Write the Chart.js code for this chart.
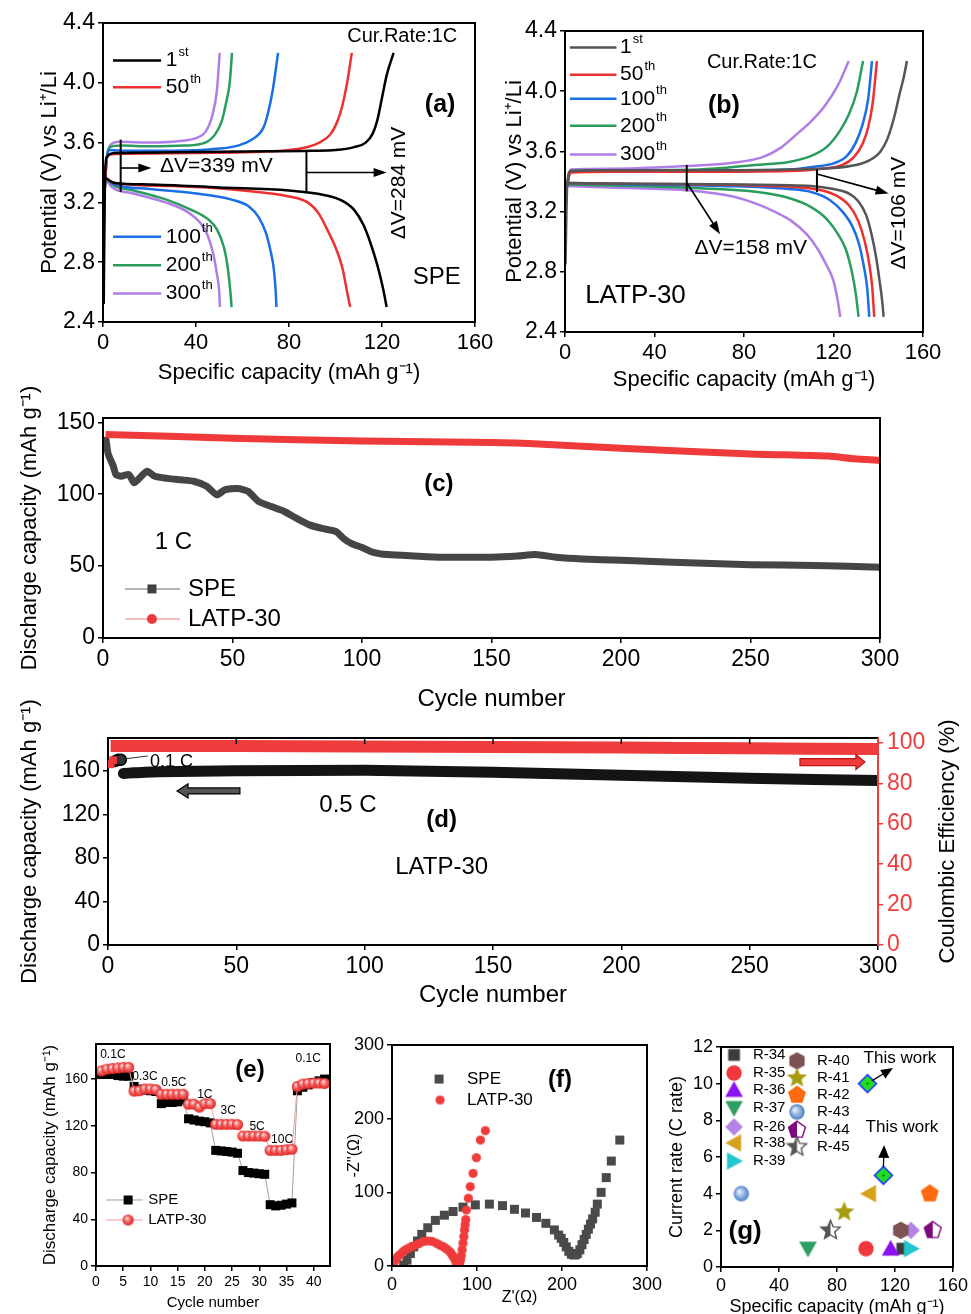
<!DOCTYPE html>
<html lang="en">
<head>
<meta charset="utf-8">
<title>SPE vs LATP-30 electrochemical performance</title>
<script src="https://cdn.jsdelivr.net/npm/chart.js"></script>
<style>
  body { margin: 0; background: #fff; }
  #page { position: relative; width: 971px; height: 1314px; overflow: hidden; background: #fff; }
  #page canvas { position: absolute; }
</style>
</head>
<body>
<div id="page">
  <canvas id="chartA" width="505" height="392" style="left:0;top:0"></canvas>
  <canvas id="chartB" width="481" height="400" style="left:490px;top:0"></canvas>
  <canvas id="chartC" width="971" height="350" style="left:0;top:370px"></canvas>
  <canvas id="chartD" width="971" height="320" style="left:0;top:700px"></canvas>
  <canvas id="chartE" width="350" height="284" style="left:0;top:1030px"></canvas>
  <canvas id="chartF" width="340" height="284" style="left:330px;top:1030px"></canvas>
  <canvas id="chartG" width="311" height="294" style="left:660px;top:1030px"></canvas>
</div>

<script>
// ---------- data ----------
// (a) SPE, charge / discharge profiles: [capacity mAh/g, potential V]
const cycleLabels = ['1st', '50th', '100th', '200th', '300th'];
const speCharge1 = [[0.3,2.52],[0.8,3.3],[1.5,3.5],[5,3.53],[30,3.535],[60,3.54],[90,3.545],[100,3.55],[108,3.57],[113,3.6],[116,3.66],[118,3.75],[120,3.9],[122,4.05],[125,4.2]];
const speDischarge1 = [[0.5,3.37],[5,3.33],[20,3.32],[50,3.3],[80,3.28],[95,3.25],[103,3.21],[108,3.15],[112,3.05],[115,2.93],[118,2.78],[120.5,2.62],[122,2.5]];
const speCharge50 = [[0.8,3.3],[1.5,3.48],[3,3.52],[10,3.525],[40,3.53],[70,3.54],[85,3.56],[93,3.6],[98,3.66],[101,3.75],[103,3.85],[105,4.0],[107,4.2]];
const speDischarge50 = [[0.5,3.37],[5,3.33],[30,3.31],[60,3.28],[80,3.24],[88,3.2],[93,3.12],[97,3.0],[100,2.9],[103,2.76],[105,2.6],[106.3,2.5]];
const speCharge100 = [[0.8,3.3],[1.5,3.48],[3,3.55],[10,3.545],[30,3.545],[50,3.56],[58,3.58],[64,3.62],[69,3.7],[71,3.8],[73,3.95],[75.3,4.2]];
const speDischarge100 = [[0.5,3.37],[5,3.32],[20,3.29],[40,3.26],[55,3.22],[63,3.17],[67,3.1],[70,3.0],[72,2.88],[73.5,2.75],[74.3,2.6],[74.6,2.5]];
const speCharge200 = [[0.8,3.3],[1.5,3.48],[3,3.57],[8,3.58],[20,3.575],[35,3.58],[44,3.6],[48,3.65],[51,3.74],[53,3.87],[54.5,4.0],[55.5,4.2]];
const speDischarge200 = [[0.5,3.37],[5,3.31],[13,3.28],[27,3.22],[38,3.15],[45,3.09],[49,3.02],[52,2.9],[53.5,2.78],[54.8,2.6],[55.3,2.5]];
const speCharge300 = [[0.8,3.3],[1.5,3.48],[3,3.58],[7,3.605],[20,3.6],[33,3.61],[40,3.63],[44,3.67],[47,3.78],[49,3.95],[50.2,4.2]];
const speDischarge300 = [[0.5,3.37],[4,3.3],[13,3.26],[27,3.2],[36,3.14],[42,3.06],[45,2.98],[47.5,2.85],[49,2.72],[50,2.6],[50.3,2.5]];

// (b) LATP-30, charge / discharge profiles
const latpCharge1 = [[0.2,2.85],[1,3.38],[2.5,3.47],[20,3.475],[60,3.475],[100,3.48],[120,3.49],[130,3.51],[136,3.54],[141,3.6],[144,3.68],[147,3.82],[149.5,3.98],[151.5,4.1],[152.8,4.2]];
const latpDischarge1 = [[0.5,3.39],[30,3.385],[80,3.38],[110,3.37],[120,3.35],[127,3.32],[131,3.27],[134.5,3.18],[137,3.05],[139,2.9],[140.5,2.75],[141.8,2.6],[142.4,2.5]];
const latpCharge50 = [[1,3.38],[2.5,3.46],[20,3.465],[60,3.465],[100,3.47],[115,3.485],[124,3.51],[129,3.56],[133,3.65],[135.5,3.76],[137.5,3.92],[139.4,4.2]];
const latpDischarge50 = [[0.5,3.39],[30,3.385],[80,3.375],[105,3.36],[115,3.34],[122,3.3],[127,3.24],[131,3.14],[134,3.0],[136,2.85],[137.3,2.7],[138.2,2.5]];
const latpCharge100 = [[1,3.38],[2.5,3.47],[20,3.47],[60,3.47],[100,3.48],[112,3.5],[120,3.52],[126,3.57],[130,3.66],[133,3.78],[135.5,3.95],[137.2,4.2]];
const latpDischarge100 = [[0.5,3.39],[30,3.38],[70,3.37],[100,3.35],[110,3.33],[118,3.28],[124,3.2],[128.5,3.1],[131.5,2.98],[133.5,2.84],[135,2.7],[136,2.5]];
const latpCharge200 = [[1,3.38],[2.5,3.47],[20,3.475],[60,3.48],[85,3.51],[100,3.53],[110,3.57],[117,3.63],[123,3.74],[127,3.85],[130.5,4.0],[133.2,4.2]];
const latpDischarge200 = [[0.5,3.38],[30,3.37],[60,3.355],[86,3.33],[100,3.29],[110,3.23],[117,3.15],[122,3.05],[125.5,2.95],[128.2,2.8],[130,2.65],[131.2,2.5]];
const latpCharge300 = [[1,3.38],[2.5,3.48],[20,3.485],[50,3.5],[75,3.525],[88,3.56],[96,3.62],[104,3.72],[110,3.8],[116,3.9],[122,4.04],[126.8,4.2]];
const latpDischarge300 = [[0.5,3.37],[20,3.36],[56,3.34],[75,3.3],[86,3.25],[95,3.19],[101,3.14],[108,3.05],[113,2.95],[117,2.84],[120,2.74],[122,2.6],[123,2.5]];

// (c) cycling at 1 C
const cyclesSpeC = [1,2,4,5,7,10,12,14,17,20,25,30,35,40,44,47,52,56,60,65,70,75,80,85,90,93,96,100,104,110,120,130,140,150,160,167,175,185,200,220,250,275,300];
const capSpeC = [140,128,119.5,113.7,112.5,113.7,108,111,116,112.5,111,110,109,105.5,99.6,103,104,102,95,91.4,88,83,78.5,76,74,69,65.6,63,59.8,58,57,56.2,56.2,56.2,57,58,56.2,55,54,52.7,51,50.4,49.2];
const cyclesLatpC = [1,50,100,150,170,200,250,280,290,300];
const capLatpC = [141.5,139,137,136,134.8,132,128,126.5,124.7,123.5];

// (d) LATP-30 long cycling, 0.1 C activation then 0.5 C
const cyclesD01 = [3,4,5];
const capD01 = [169,170,170];
const cyclesD05 = [6,10,20,50,100,150,200,250,300];
const capD05 = [157.5,158,159,160,160.3,158.5,155.7,153,151];
const cyclesCeFirst = [1,2];
const ceFirst = [89.5,91.5];
const cyclesCe = [1,50,100,150,200,250,300];
const ceMain = [98.6,98.5,98.3,98.1,97.8,97.4,97];

// (e) rate capability
const rateCycles = [1,2,3,4,5,6,7,8,9,10,11,12,13,14,15,16,17,18,19,20,21,22,23,24,25,26,27,28,29,30,31,32,33,34,35,36,37,38,39,40,41,42];
const speRate = [164,164,164,163,162.5,162.5,153.7,151.4,150.5,150,149.4,139,140,140,140.5,142,126,125,124,123.5,122.5,99,98.5,98,97.5,96.5,81.7,80,79.5,79,78.5,52.5,51.5,52,53,54,150,153,155,157,158.5,160];
const latpRate = [167,168.5,169,169.5,170,170,149.7,150,151.5,151.5,151,147,147,147,147,147,138.5,138.5,136,139,139,121.3,121.3,121.3,121.3,121,111.3,111.3,111.3,111.3,111,99,99,99,99.5,100,153.7,155.7,156.3,156.6,156.6,156.3];
const rateLabels = ['0.1C', '0.3C', '0.5C', '1C', '3C', '5C', '10C', '0.1C'];

// (f) Nyquist plots: Z' and -Z'' in ohm
const speZre = [13.7,17.6,21.6,25.5,30,35,42,51,61.6,71.8,83.5,98,114.5,130,144,157,170,181,191,196,199,202,205,208,211,214,216,218,221,223.5,226,228.5,231,233.5,236,239,241.5,246,252,258,268];
const speZim = [1.4,8,17,26,34,43,52,62,69,74,80,83,84,82,77,72,66,58,49,42,37.6,32,26,20,16,15,15.5,17,22,29,36,43,50,57,64,73,84,100,120,142.5,171];
const latpZre = [1,2,3,5,7,10,13,16,20,24,28,32,37,42,47,52,56,60,63,66,69,71,73,74.5,75.5,76.5,78,79.5,80.5,81.5,82.5,83.5,84.5,85.3,86,86.7,87.5,89.8,92,95.3,99.2,104,109.8];
const latpZim = [1,4,7,10,13,16,19.5,22,24.5,26.5,28.5,30.5,33.5,34,33.5,31,28.5,26.5,24,21.5,18,14.5,11,8,5,3,2.5,4,8,14,22,31,40,49,56,63,76,92,107.7,125.8,147,171,183.7];

// (g) comparison with literature: capacity (mAh/g) vs C rate
const refNames = ['R-34','R-35','R-36','R-37','R-26','R-38','R-39','R-40','R-41','R-42','R-43','R-44','R-45'];
const refCapacity = [125,100,117,60,131,102,131,124,85,144,14,146,75.5];
const refRate = [1,1,1,1,2,4,1,2,3,4,4,2,2];
const thisWorkCapacity = [101,112];
const thisWorkRate = [10,5];

// ---------- drawing helpers ----------
const FONT = "'Liberation Sans', Arial, sans-serif";
Chart.defaults.font.family = FONT;
Chart.defaults.color = '#000';

const toPts = arr => arr.map(p => ({ x: p[0], y: p[1] }));
const zip = (xs, ys) => xs.map((x, i) => ({ x, y: ys[i] }));

function marker(size, paint, k = 1) {
  const c = document.createElement('canvas');
  c.width = Math.ceil(size * k); c.height = Math.ceil(size * k);
  const g = c.getContext('2d');
  g.translate(c.width / 2, c.height / 2);
  g.scale(k, k);
  paint(g);
  return c;
}
function path(g, pts) {
  g.beginPath();
  pts.forEach((p, i) => i ? g.lineTo(p[0], p[1]) : g.moveTo(p[0], p[1]));
  g.closePath();
}
function ngon(g, r, n) {
  g.beginPath();
  for (let i = 0; i < n; i++) {
    const a = -Math.PI / 2 + i * 2 * Math.PI / n;
    g.lineTo(r * Math.cos(a), r * Math.sin(a));
  }
  g.closePath();
}
function star(g, r) {
  g.beginPath();
  for (let i = 0; i < 10; i++) {
    const a = -Math.PI / 2 + i * Math.PI / 5;
    const rr = i % 2 ? r * 0.45 : r;
    g.lineTo(rr * Math.cos(a), rr * Math.sin(a));
  }
  g.closePath();
}
const fillWith = (col, shape) => g => { shape(g); g.fillStyle = col; g.fill(); };

const MK = 1.18; // marker scale for panel (g)
const refMarkers = [
  marker(12, g => { g.fillStyle = '#3c3c3c'; g.fillRect(-5, -5, 10, 10); }, MK),
  marker(15, g => { g.beginPath(); g.arc(0, 0, 6.5, 0, 7); g.fillStyle = '#f0383c'; g.fill(); }, MK),
  marker(17, fillWith('#8b10f0', g => path(g, [[0,-7.5],[7.5,6],[-7.5,6]])), MK),
  marker(17, fillWith('#2f9e64', g => path(g, [[0,7.5],[7.5,-6],[-7.5,-6]])), MK),
  marker(17, fillWith('#b583e3', g => path(g, [[0,-7.5],[7.5,0],[0,7.5],[-7.5,0]])), MK),
  marker(17, fillWith('#d6a21c', g => path(g, [[-7.5,0],[6,-7.5],[6,7.5]])), MK),
  marker(17, fillWith('#22c6cc', g => path(g, [[7.5,0],[-6,-7.5],[-6,7.5]])), MK),
  marker(17, fillWith('#7c5252', g => ngon(g, 7.5, 6)), MK),
  marker(19, fillWith('#a69c10', g => star(g, 9)), MK),
  marker(18, fillWith('#ff6b10', g => ngon(g, 8, 5)), MK),
  marker(15, g => {
    const gr = g.createRadialGradient(-2, -2, 0.5, 0, 0, 6.5);
    gr.addColorStop(0, '#e4efff'); gr.addColorStop(1, '#4a7fc4');
    g.beginPath(); g.arc(0, 0, 6.5, 0, 7); g.fillStyle = gr; g.fill();
  }, MK),
  marker(18, g => {
    ngon(g, 7.5, 5); g.fillStyle = '#fff'; g.fill();
    g.save(); g.beginPath(); g.rect(-9, -9, 9, 18); g.clip();
    ngon(g, 7.5, 5); g.fillStyle = '#7d0b7d'; g.fill(); g.restore();
    ngon(g, 7.5, 5); g.strokeStyle = '#7d0b7d'; g.lineWidth = 1.2; g.stroke();
  }, MK),
  marker(19, g => {
    star(g, 8.5); g.fillStyle = '#fff'; g.fill();
    g.save(); g.beginPath(); g.rect(-10, -10, 10, 20); g.clip();
    star(g, 8.5); g.fillStyle = '#555'; g.fill(); g.restore();
    star(g, 8.5); g.strokeStyle = '#555'; g.lineWidth = 1.2; g.stroke();
  }, MK)
];
const thisWorkMarker = marker(20, g => {
  path(g, [[0,-8.5],[8.5,0],[0,8.5],[-8.5,0]]);
  g.fillStyle = '#22dd22'; g.fill(); g.strokeStyle = '#2040ff'; g.lineWidth = 1.6; g.stroke();
  g.beginPath(); g.arc(0, 0, 0.9, 0, 7); g.fillStyle = '#0a400a'; g.fill();
}, 1.05);
const squareE = marker(11, g => { g.fillStyle = '#000'; g.fillRect(-4.5, -4.5, 9, 9); });
const glossyE = marker(13, g => {
  const gr = g.createRadialGradient(-1.5, -2, 0.3, 0, 0, 5.8);
  gr.addColorStop(0, '#ffe0e0'); gr.addColorStop(0.45, '#f46a6a'); gr.addColorStop(1, '#e01e1e');
  g.beginPath(); g.arc(0, 0, 5.6, 0, 7); g.fillStyle = gr; g.fill();
});
const squareF = marker(11, g => { g.fillStyle = '#4a4a4a'; g.fillRect(-4.5, -4.5, 9, 9); });
const circleF = marker(11, g => { g.beginPath(); g.arc(0, 0, 4.6, 0, 7); g.fillStyle = '#ef3b3b'; g.fill(); });

function txt(ctx, s, x, y, size, align = 'center', opts = {}) {
  ctx.font = (opts.bold ? 'bold ' : '') + size + 'px ' + FONT;
  ctx.fillStyle = opts.color || '#000';
  ctx.textAlign = align; ctx.textBaseline = 'middle';
  ctx.fillText(s, x, y);
}
function vtxt(ctx, s, x, y, size) {
  ctx.save(); ctx.translate(x, y); ctx.rotate(-Math.PI / 2);
  txt(ctx, s, 0, 0, size); ctx.restore();
}
function ordinal(ctx, label, x, y, size) {
  const m = label.match(/^(\d+)(\D+)$/);
  txt(ctx, m[1], x, y, size, 'left');
  const w = ctx.measureText(m[1]).width;
  txt(ctx, m[2], x + w + 1, y - size * 0.38, Math.round(size * 0.62), 'left');
}
function seg(ctx, x1, y1, x2, y2, lw = 2, color = '#000') {
  ctx.strokeStyle = color; ctx.lineWidth = lw;
  ctx.beginPath(); ctx.moveTo(x1, y1); ctx.lineTo(x2, y2); ctx.stroke();
}
function arrow(ctx, x1, y1, x2, y2, len = 13, half = 4.5, lw = 1.6) {
  const a = Math.atan2(y2 - y1, x2 - x1), c = Math.cos(a), s = Math.sin(a);
  seg(ctx, x1, y1, x2 - len * c * 0.7, y2 - len * s * 0.7, lw);
  ctx.fillStyle = '#000';
  ctx.beginPath(); ctx.moveTo(x2, y2);
  ctx.lineTo(x2 - len * c + half * s, y2 - len * s - half * c);
  ctx.lineTo(x2 - len * c - half * s, y2 - len * s + half * c);
  ctx.closePath(); ctx.fill();
}
function blockArrow(ctx, xTail, xHead, y, shaft, head, headLen, fill, stroke) {
  const d = Math.sign(xHead - xTail), xb = xHead - d * headLen;
  ctx.beginPath();
  ctx.moveTo(xTail, y - shaft / 2); ctx.lineTo(xb, y - shaft / 2); ctx.lineTo(xb, y - head / 2);
  ctx.lineTo(xHead, y); ctx.lineTo(xb, y + head / 2); ctx.lineTo(xb, y + shaft / 2);
  ctx.lineTo(xTail, y + shaft / 2); ctx.closePath();
  ctx.fillStyle = fill; ctx.fill(); ctx.strokeStyle = stroke; ctx.lineWidth = 1.2; ctx.stroke();
}

function axis(o) {
  const ax = {
    type: 'linear', position: o.pos, min: o.min, max: o.max,
    ticks: { stepSize: o.step, includeBounds: false, autoSkip: false, maxRotation: 0,
             color: o.color || '#000', font: { size: o.tickSize }, padding: o.tickPad == null ? 3 : o.tickPad },
    grid: { drawOnChartArea: false, tickLength: 5, color: o.color || '#000', lineWidth: 1.5 },
    border: { color: o.color || '#000', width: 2 },
    title: o.title ? { display: true, text: o.title, color: '#000', font: { size: o.titleSize },
                       padding: { top: o.titlePad, bottom: o.titlePad } } : { display: false },
    afterFit(s) {
      if (s.isHorizontal()) { s.height = o.size; s.paddingLeft = 0; s.paddingRight = 0; }
      else { s.width = o.size; s.paddingTop = 0; s.paddingBottom = 0; }
    }
  };
  if (o.fmt) ax.ticks.callback = o.fmt;
  return ax;
}
const oneDecimal = v => v.toFixed(1);

const framePlugin = {
  id: 'frame',
  afterDatasetsDraw(chart) {
    const a = chart.chartArea, ctx = chart.ctx;
    ctx.save(); ctx.strokeStyle = '#000'; ctx.lineWidth = 2;
    ctx.strokeRect(a.left, a.top, a.right - a.left, a.bottom - a.top);
    ctx.restore();
  }
};
function overlay(draw) {
  return {
    id: 'overlay',
    afterDraw(chart) {
      const ctx = chart.ctx;
      ctx.save();
      draw(ctx, v => chart.scales.x.getPixelForValue(v), v => chart.scales.y.getPixelForValue(v), chart);
      ctx.restore();
    }
  };
}
function makeChart(id, datasets, scales, padding, draw, frame = true) {
  return new Chart(document.getElementById(id), {
    type: 'scatter',
    data: { datasets },
    options: {
      responsive: false, animation: false, devicePixelRatio: 1,
      layout: { padding },
      scales,
      plugins: { legend: { display: false }, tooltip: { enabled: false } },
      elements: { point: { radius: 0 } }
    },
    plugins: frame ? [framePlugin, overlay(draw)] : [overlay(draw)]
  });
}
function curve(data, color, width = 2.5) {
  return { data: toPts(data), showLine: true, borderColor: color, borderWidth: width,
           pointRadius: 0, cubicInterpolationMode: 'monotone', fill: false };
}

// ---------- (a) ----------
const colorsA = ['#000000', '#ee3030', '#1a6fe6', '#2a9d5c', '#b07ee6'];
const curvesA = [[speCharge1, speDischarge1], [speCharge50, speDischarge50], [speCharge100, speDischarge100],
                 [speCharge200, speDischarge200], [speCharge300, speDischarge300]];
makeChart('chartA',
  curvesA.flatMap((pair, i) => pair.map(d => curve(d, colorsA[i]))),
  {
    x: axis({ pos: 'bottom', min: 0, max: 160, step: 40, tickSize: 22, size: 70,
              title: 'Specific capacity (mAh g\u207B\u00B9)', titleSize: 22, titlePad: 6 }),
    y: axis({ pos: 'left', min: 2.4, max: 4.4, step: 0.4, tickSize: 23, size: 103, fmt: oneDecimal,
              title: 'Potential (V) vs Li\u207A/Li', titleSize: 22, titlePad: 37 })
  },
  { left: 0, top: 23, right: 30, bottom: 0 },
  (ctx, X, Y) => {
    const rows = [4.15, 3.97, 2.97, 2.78, 2.59];
    rows.forEach((v, i) => {
      seg(ctx, X(4.3), Y(v), X(25), Y(v), 2.5, colorsA[i]);
      ordinal(ctx, cycleLabels[i], X(27), Y(v), 21);
    });
    txt(ctx, 'Cur.Rate:1C', X(128.7), Y(4.31), 20);
    txt(ctx, '(a)', X(145), Y(3.85), 25, 'center', { bold: true });
    txt(ctx, 'SPE', X(143.5), Y(2.7), 24);
    seg(ctx, X(7.6), Y(3.27), X(7.6), Y(3.62), 2);
    arrow(ctx, X(7.6), Y(3.43), X(20.8), Y(3.43));
    txt(ctx, '\u0394V=339 mV', X(24.5), Y(3.44), 21, 'left');
    seg(ctx, X(87.5), Y(3.27), X(87.5), Y(3.545), 2);
    arrow(ctx, X(87.5), Y(3.4), X(122), Y(3.4));
    vtxt(ctx, '\u0394V=284 mV', X(127.3), Y(3.33), 21);
  });

// ---------- (b) ----------
const colorsB = ['#555555', '#ee3030', '#1a6fe6', '#2a9d5c', '#b07ee6'];
const curvesB = [[latpCharge1, latpDischarge1], [latpCharge50, latpDischarge50], [latpCharge100, latpDischarge100],
                 [latpCharge200, latpDischarge200], [latpCharge300, latpDischarge300]];
makeChart('chartB',
  curvesB.flatMap((pair, i) => pair.map(d => curve(d, colorsB[i]))),
  {
    x: axis({ pos: 'bottom', min: 0, max: 160, step: 40, tickSize: 22, size: 68,
              title: 'Specific capacity (mAh g\u207B\u00B9)', titleSize: 22, titlePad: 7 }),
    y: axis({ pos: 'left', min: 2.4, max: 4.4, step: 0.4, tickSize: 23, size: 75, fmt: oneDecimal,
              title: 'Potential (V) vs Li\u207A/Li', titleSize: 22, titlePad: 12 })
  },
  { left: 0, top: 31, right: 48, bottom: 0 },
  (ctx, X, Y) => {
    const rows = [4.29, 4.11, 3.95, 3.77, 3.58];
    rows.forEach((v, i) => {
      seg(ctx, X(2.2), Y(v), X(23), Y(v), 2.5, colorsB[i]);
      ordinal(ctx, cycleLabels[i], X(24.6), Y(v), 21);
    });
    txt(ctx, 'Cur.Rate:1C', X(88), Y(4.19), 20);
    txt(ctx, '(b)', X(71), Y(3.9), 25, 'center', { bold: true });
    seg(ctx, X(54.4), Y(3.335), X(54.4), Y(3.51), 2);
    arrow(ctx, X(54.5), Y(3.39), X(69.3), Y(3.05));
    txt(ctx, '\u0394V=158 mV', X(83), Y(2.96), 21);
    seg(ctx, X(112.6), Y(3.33), X(112.6), Y(3.48), 2);
    arrow(ctx, X(112.6), Y(3.45), X(144.6), Y(3.32));
    vtxt(ctx, '\u0394V=106 mV', X(149.2), Y(3.19), 21);
    txt(ctx, 'LATP-30', X(9), Y(2.64), 26, 'left');
  });

// ---------- (c) ----------
makeChart('chartC',
  [
    { data: zip(cyclesLatpC, capLatpC), showLine: true, borderColor: '#ee3a3a', borderWidth: 7, pointRadius: 0, tension: 0.2 },
    { data: zip(cyclesSpeC, capSpeC), showLine: true, borderColor: '#454545', borderWidth: 7, pointRadius: 0, tension: 0.2 }
  ],
  {
    x: axis({ pos: 'bottom', min: 0, max: 300, step: 50, tickSize: 23, size: 82,
              title: 'Cycle number', titleSize: 24, titlePad: 6 }),
    y: axis({ pos: 'left', min: 0, max: 153, step: 50, tickSize: 23, size: 103,
              title: 'Discharge capacity (mAh g\u207B\u00B9)', titleSize: 22, titlePad: 17 })
  },
  { left: 0, top: 48, right: 91, bottom: 0 },
  (ctx, X, Y) => {
    seg(ctx, X(8.5), Y(34.1), X(29.7), Y(34.1), 1.5, '#9a9a9a');
    ctx.fillStyle = '#404040'; ctx.fillRect(X(18.9) - 4.5, Y(34.1) - 4.5, 9, 9);
    seg(ctx, X(8.5), Y(13.2), X(29.7), Y(13.2), 1.5, '#f7a8a8');
    ctx.beginPath(); ctx.arc(X(18.9), Y(13.2), 5, 0, 7); ctx.fillStyle = '#ee3a3a'; ctx.fill();
    txt(ctx, 'SPE', X(32.8), Y(34.1), 24, 'left');
    txt(ctx, 'LATP-30', X(32.8), Y(13.2), 24, 'left');
    txt(ctx, '1 C', X(20), Y(66.8), 24, 'left');
    txt(ctx, '(c)', X(129.7), Y(107), 24, 'center', { bold: true });
  });

// ---------- (d) ----------
makeChart('chartD',
  [
    { data: zip(cyclesCeFirst, ceFirst), yAxisID: 'y2', pointStyle: 'rect', pointRadius: 5.5,
      backgroundColor: '#ee3a3a', borderColor: '#ee3a3a', borderWidth: 0 },
    { data: zip(cyclesD01, capD01), pointStyle: 'circle', pointRadius: 5.5,
      backgroundColor: '#333', borderColor: '#000', borderWidth: 1.5 },
    { data: zip(cyclesD05, capD05), showLine: true, borderColor: '#141414', borderWidth: 11, pointRadius: 0,
      tension: 0.2, borderCapStyle: 'round' },
    { data: zip(cyclesCe, ceMain), yAxisID: 'y2', showLine: true, borderColor: '#ef3c3c', borderWidth: 12,
      pointRadius: 0, tension: 0.2 }
  ],
  {
    x: axis({ pos: 'bottom', min: 0, max: 300, step: 50, tickSize: 23, size: 75,
              title: 'Cycle number', titleSize: 24, titlePad: 10 }),
    y: axis({ pos: 'left', min: 0, max: 190, step: 40, tickSize: 23, size: 108,
              title: 'Discharge capacity (mAh g\u207B\u00B9)', titleSize: 22, titlePad: 17 }),
    y2: axis({ pos: 'right', min: 0, max: 102.5, step: 20, tickSize: 23, size: 93, color: '#f03c3c', tickPad: 4 })
  },
  { left: 0, top: 38, right: 0, bottom: 0 },
  (ctx, X, Y, chart) => {
    const a = chart.chartArea, Y2 = v => chart.scales.y2.getPixelForValue(v);
    seg(ctx, a.left, a.top, a.right, a.top, 2);
    for (let c = 50; c < 300; c += 50) seg(ctx, X(c), a.top, X(c), a.top + 6, 1.5);
    seg(ctx, a.right, a.top, a.right, a.bottom, 2, '#f03c3c');
    seg(ctx, X(5.5), Y(170.5), X(15.5), Y(173.5), 1, '#333');
    txt(ctx, '0.1 C', X(16.4), Y(168), 18, 'left');
    blockArrow(ctx, X(51.4), X(26.9), Y(141.4), 6, 14, 11, '#555', '#000');
    blockArrow(ctx, X(269.6), X(294.9), Y2(90.6), 7, 15, 9, '#f03c3c', '#c01010');
    txt(ctx, '0.5 C', X(93.5), Y(128.5), 24);
    txt(ctx, '(d)', X(130), Y(114.7), 24, 'center', { bold: true });
    txt(ctx, 'LATP-30', X(130), Y(71.6), 24);
    vtxt(ctx, 'Coulombic Efficiency (%)', 948, (a.top + a.bottom) / 2, 22);
  }, false);

// ---------- (e) ----------
makeChart('chartE',
  [
    { data: zip(rateCycles, latpRate), showLine: true, borderColor: '#f4a0a0', borderWidth: 1,
      pointStyle: glossyE, pointRadius: 5 },
    { data: zip(rateCycles, speRate), showLine: true, borderColor: '#a0a0a0', borderWidth: 1,
      pointStyle: squareE, pointRadius: 5 }
  ],
  {
    x: axis({ pos: 'bottom', min: 0, max: 43, step: 5, tickSize: 14, size: 48,
              title: 'Cycle number', titleSize: 15, titlePad: 2 }),
    y: axis({ pos: 'left', min: 0, max: 190, step: 40, tickSize: 14, size: 96,
              title: 'Discharge capacity (mAh g\u207B\u00B9)', titleSize: 17, titlePad: 40 })
  },
  { left: 0, top: 14, right: 20, bottom: 0 },
  (ctx, X, Y) => {
    const pos = [[3.1,180.6],[9.0,161.8],[14.3,156.6],[20,146.4],[24.3,132.7],[29.6,119],[34.2,107.8],[39,177.2]];
    rateLabels.forEach((s, i) => txt(ctx, s, X(pos[i][0]), Y(pos[i][1]), 12));
    txt(ctx, '(e)', X(28.3), Y(167.7), 24, 'center', { bold: true });
    seg(ctx, X(1.84), Y(56.5), X(8.6), Y(56.5), 1, '#a0a0a0');
    ctx.drawImage(squareE, X(5.9) - 5.5, Y(56.5) - 5.5);
    seg(ctx, X(1.84), Y(39.4), X(8.6), Y(39.4), 1, '#f4a0a0');
    ctx.drawImage(glossyE, X(5.9) - 6.5, Y(39.4) - 6.5);
    txt(ctx, 'SPE', X(9.6), Y(56.5), 15, 'left');
    txt(ctx, 'LATP-30', X(9.6), Y(39.4), 15, 'left');
  });

// ---------- (f) ----------
makeChart('chartF',
  [
    { data: zip(latpZre, latpZim), pointStyle: circleF, pointRadius: 4 },
    { data: zip(speZre, speZim), pointStyle: squareF, pointRadius: 4 }
  ],
  {
    x: axis({ pos: 'bottom', min: 0, max: 300, step: 100, tickSize: 18, size: 48,
              title: "Z'(\u03A9)", titleSize: 16, titlePad: 7 }),
    y: axis({ pos: 'left', min: 0, max: 300, step: 100, tickSize: 18, size: 62,
              title: "-Z''(\u03A9)", titleSize: 16, titlePad: 15 })
  },
  { left: 0, top: 15, right: 23, bottom: 0 },
  (ctx, X, Y) => {
    ctx.drawImage(squareF, X(55.3) - 5.5, Y(253.8) - 5.5);
    ctx.drawImage(circleF, X(56.5) - 5.5, Y(225.3) - 5.5);
    txt(ctx, 'SPE', X(88.2), Y(253.8), 17, 'left');
    txt(ctx, 'LATP-30', X(88.2), Y(225.3), 17, 'left');
    txt(ctx, '(f)', X(197.6), Y(252.5), 24, 'center', { bold: true });
  });

// ---------- (g) ----------
makeChart('chartG',
  [
    { data: zip(thisWorkCapacity, thisWorkRate), pointStyle: thisWorkMarker, pointRadius: 6 },
    { data: zip(refCapacity, refRate), pointStyle: refMarkers, pointRadius: 6 }
  ],
  {
    x: axis({ pos: 'bottom', min: 0, max: 160, step: 40, tickSize: 18, size: 57,
              title: 'Specific capacity (mAh g\u207B\u00B9)', titleSize: 18, titlePad: 6 }),
    y: axis({ pos: 'left', min: 0, max: 12, step: 2, tickSize: 18, size: 61,
              title: 'Current rate (C rate)', titleSize: 18, titlePad: 6 })
  },
  { left: 0, top: 17, right: 18, bottom: 0 },
  (ctx, X, Y) => {
    const col1 = [11.57, 10.58, 9.66, 8.67, 7.64, 6.77, 5.78];
    const col2 = [11.24, 10.31, 9.38, 8.46, 7.47, 6.55];
    refNames.forEach((name, i) => {
      const first = i < 7;
      const mx = first ? X(9) : X(52.4), lx = first ? X(22) : X(66.2);
      const y = Y(first ? col1[i] : col2[i - 7]);
      const m = refMarkers[i];
      ctx.drawImage(m, mx - m.width / 2, y - m.height / 2);
      txt(ctx, name, lx, y, 15, 'left');
    });
    txt(ctx, 'This work', X(123.4), Y(11.4), 17);
    txt(ctx, 'This work', X(124.8), Y(7.64), 17);
    arrow(ctx, X(104), Y(10.15), X(118.6), Y(10.86), 12, 5, 1.3);
    arrow(ctx, X(112), Y(5.45), X(112.5), Y(6.66), 13, 5.5, 1.3);
    txt(ctx, '(g)', X(16.6), Y(1.9), 26, 'center', { bold: true });
  });
</script>
</body>
</html>
